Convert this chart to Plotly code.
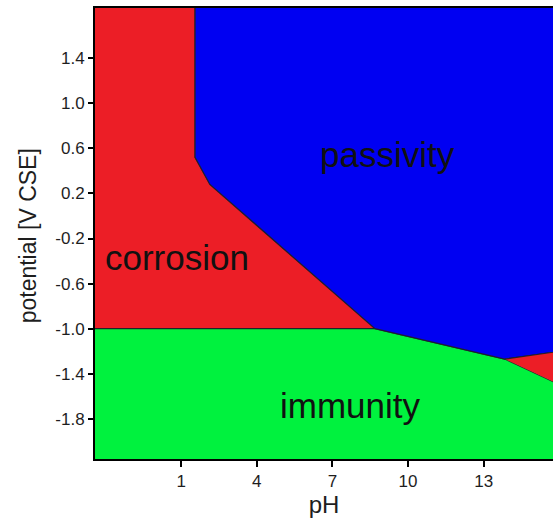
import plotly.graph_objects as go

# Region boundary vertices (pH, potential V CSE)
corrosion_x = [-3.0, 1.55, 1.55, 2.14, 8.69, -3.0]
corrosion_y = [2.5, 2.5, 0.52, 0.28, -1.0, -1.0]

passivity_x = [1.55, 1.55, 2.14, 8.69, 13.84, 17.0, 17.0]
passivity_y = [2.5, 0.52, 0.28, -1.0, -1.27, -1.17, 2.5]

immunity_x = [-3.0, 8.69, 13.84, 17.0, 17.0, -3.0]
immunity_y = [-1.0, -1.0, -1.27, -1.60, -2.5, -2.5]

corrosion2_x = [13.84, 17.0, 17.0]
corrosion2_y = [-1.27, -1.17, -1.60]

region_labels = ["passivity", "corrosion", "immunity"]
label_x = [9.2, 0.85, 7.7]
label_y = [0.55, -0.37, -1.68]

x_ticks = [1, 4, 7, 10, 13]
y_ticks = [1.4, 1.0, 0.6, 0.2, -0.2, -0.6, -1.0, -1.4, -1.8]
y_ticktext = ["1.4", "1.0", "0.6", "0.2", "-0.2", "-0.6", "-1.0", "-1.4", "-1.8"]

RED = "rgb(236,30,38)"
BLUE = "rgb(0,0,242)"
GREEN = "rgb(0,242,62)"
EDGE = "rgba(30,30,40,0.9)"

fig = go.Figure()
for xs, ys, col in [
    (corrosion_x, corrosion_y, RED),
    (immunity_x, immunity_y, GREEN),
    (passivity_x, passivity_y, BLUE),
    (corrosion2_x, corrosion2_y, RED),
]:
    fig.add_trace(go.Scatter(
        x=xs, y=ys, mode="lines", fill="toself", fillcolor=col,
        line=dict(color=EDGE, width=1.2), hoverinfo="skip", showlegend=False,
    ))

for t, x, y in zip(region_labels, label_x, label_y):
    fig.add_annotation(x=x, y=y, text=t, showarrow=False,
                       font=dict(family="Liberation Sans, Arial", size=35, color="#111111"))

# y-axis title
fig.add_annotation(xref="paper", yref="paper", x=-0.146, y=0.494, text="potential [V CSE]",
                   textangle=-90, showarrow=False, xanchor="center", yanchor="middle",
                   font=dict(family="Liberation Sans, Arial", size=23, color="#1e1e1e"))

fig.update_layout(
    width=553, height=521,
    margin=dict(l=95, r=0, t=8, b=62),
    paper_bgcolor="white", plot_bgcolor="white",
    font=dict(family="Liberation Sans, Arial", color="#1e1e1e"),
)
fig.update_xaxes(
    range=[-2.42, 15.75], tickvals=x_ticks, ticktext=[str(v) for v in x_ticks],
    showgrid=False, zeroline=False, showline=True, linecolor="black", linewidth=2,
    mirror=True, ticks="outside", ticklen=6, tickwidth=2, tickcolor="black",
    tickfont=dict(size=17), title=dict(text="pH", font=dict(size=24), standoff=0),
)
fig.update_yaxes(
    range=[-2.157, 1.846], tickvals=y_ticks, ticktext=y_ticktext,
    showgrid=False, zeroline=False, showline=True, linecolor="black", linewidth=2,
    mirror=False, ticks="outside", ticklen=5, tickwidth=2, tickcolor="black",
    tickfont=dict(size=17),
)

fig.write_html("out.html")
